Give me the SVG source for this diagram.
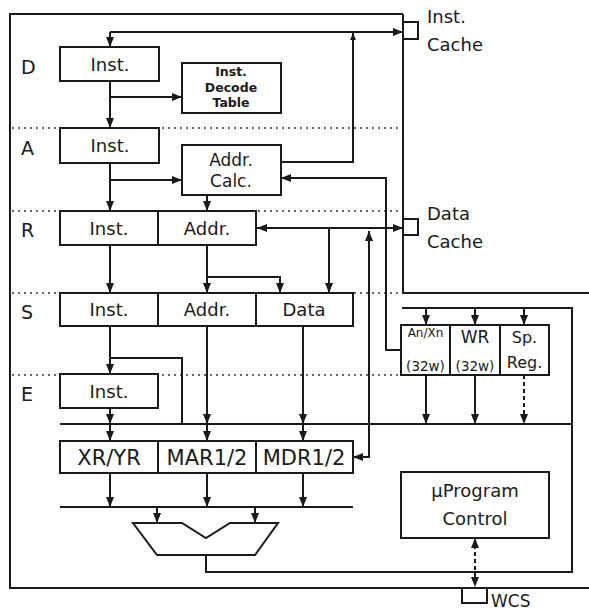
<svg xmlns="http://www.w3.org/2000/svg" width="589" height="612" viewBox="0 0 589 612">
<defs>
<marker id="ah" markerUnits="userSpaceOnUse" markerWidth="10" markerHeight="8" refX="10" refY="4" orient="auto-start-reverse"><path d="M0,0 L10,4 L0,8 z" fill="#1a1a1a"/></marker>
<marker id="ahs" markerUnits="userSpaceOnUse" markerWidth="7" markerHeight="6" refX="7" refY="3" orient="auto-start-reverse"><path d="M0,0 L7,3 L0,6 z" fill="#1a1a1a"/></marker>
<style>
text{font-family:"DejaVu Sans","Liberation Sans",sans-serif;fill:#1a1a1a}
.t{font-size:18px;text-anchor:middle}
.b{font-size:21px;text-anchor:middle}
.s{font-size:12.5px;font-weight:bold;text-anchor:middle}
.lane{font-size:19px}
.lbl{font-size:18px}
.box{fill:#fff;stroke:#1a1a1a;stroke-width:2}
.ln{fill:none;stroke:#1a1a1a;stroke-width:2}
.dot{fill:none;stroke:#333;stroke-width:1.5;stroke-dasharray:2 4}
.dash{stroke-dasharray:4 3}
.a{marker-end:url(#ah)}
.a2{marker-start:url(#ah);marker-end:url(#ah)}
</style>
</defs>
<rect width="589" height="612" fill="#fff"/>
<g id="frame">
<path class="ln" d="M403,14 L10,14 L10,588 L589,588"/>
<path class="ln" d="M403,14 L403,293 L589,293"/>
<path class="dot" d="M12,128 L403,128 M12,211 L403,211 M12,293 L403,293 M12,375 L401,375"/>
</g>
<g id="lanes">
<text class="lane" x="21" y="74">D</text>
<text class="lane" x="21" y="155">A</text>
<text class="lane" x="21" y="237">R</text>
<text class="lane" x="21" y="319">S</text>
<text class="lane" x="21" y="401">E</text>
</g>
<g id="connectors">
<path class="ln a" d="M110,32 L403,32"/>
<path class="ln a" d="M110,32 L110,47"/>
<path class="ln" d="M281,162 L353,162 L353,33" marker-end="url(#ahs)"/>
<path class="ln a" d="M110,81 L110,128"/>
<path class="ln a" d="M110,97 L182,97"/>
<path class="ln a" d="M110,163 L110,211"/>
<path class="ln a" d="M110,180 L182,180"/>
<path class="ln a" d="M207,195 L207,211"/>
<path class="ln a" d="M401,350 L386,350 L386,178 L281,178"/>
<path class="ln a2" d="M257,228 L403,228"/>
<path class="ln a" d="M329,228 L329,293"/>
<path class="ln a2" d="M353,457 L369,457 L369,231"/>
<path class="ln a" d="M110,245 L110,293"/>
<path class="ln a" d="M207,245 L207,293"/>
<path class="ln a" d="M207,277 L280,277 L280,293"/>
<path class="ln a" d="M110,326 L110,374"/>
<path class="ln" d="M110,358 L182,358 L182,424"/>
<path class="ln a" d="M207,326 L207,424"/>
<path class="ln a" d="M207,424 L207,441"/>
<path class="ln a" d="M303,326 L303,424"/>
<path class="ln a" d="M303,424 L303,441"/>
<path class="ln a" d="M110,408 L110,424"/>
<path class="ln a" d="M110,424 L110,441"/>
<path class="ln a" d="M110,473 L110,507"/>
<path class="ln a" d="M207,473 L207,507"/>
<path class="ln a" d="M303,473 L303,507"/>
<path class="ln a" d="M157,507 L157,523"/>
<path class="ln a" d="M255,507 L255,523"/>
<path class="ln" d="M60,424 L572,424"/>
<path class="ln" d="M60,507 L353,507"/>
<path class="ln" d="M206,555 L206,572 L572,572 L572,308 L402,308"/>
<path class="ln a" d="M426,308 L426,325"/>
<path class="ln a" d="M475,308 L475,325"/>
<path class="ln a" d="M524,308 L524,325"/>
<path class="ln a" d="M426,375 L426,424"/>
<path class="ln a" d="M475,375 L475,424"/>
<path class="ln a dash" d="M524,375 L524,424"/>
<path class="ln a2 dash" d="M475,538 L475,587"/>
<path class="ln" d="M403,22 L418,22 L418,39 L403,39"/>
<path class="ln" d="M403,219 L418,219 L418,235 L403,235"/>
<path class="ln" d="M462,588 L462,603 L487,603 L487,588"/>
</g>
<g id="caches">
<text class="lbl" x="427" y="23">Inst.</text>
<text class="lbl" x="427" y="51">Cache</text>
<text class="lbl" x="427" y="220">Data</text>
<text class="lbl" x="427" y="248">Cache</text>
<text class="lbl" x="491" y="607" style="font-size:17px">WCS</text>
</g>
<g id="d-inst"><rect class="box" x="60" y="47" width="99" height="34"/><text class="t" x="110" y="71">Inst.</text></g>
<g id="decode"><rect class="box" x="182" y="63" width="99" height="50"/><text class="s" x="231" y="76">Inst.</text><text class="s" x="231" y="92">Decode</text><text class="s" x="231" y="107">Table</text></g>
<g id="a-inst"><rect class="box" x="60" y="128" width="99" height="35"/><text class="t" x="110" y="152">Inst.</text></g>
<g id="addr-calc"><rect class="box" x="182" y="145" width="99" height="50"/><text class="t" x="231" y="166" style="font-size:17px">Addr.</text><text class="t" x="231" y="187" style="font-size:17px">Calc.</text></g>
<g id="r-inst"><rect class="box" x="60" y="211" width="98" height="34"/><text class="t" x="109" y="235">Inst.</text></g>
<g id="r-addr"><rect class="box" x="158" y="211" width="98" height="34"/><text class="t" x="207" y="235">Addr.</text></g>
<g id="s-inst"><rect class="box" x="60" y="293" width="98" height="33"/><text class="t" x="109" y="316">Inst.</text></g>
<g id="s-addr"><rect class="box" x="158" y="293" width="98" height="33"/><text class="t" x="207" y="316">Addr.</text></g>
<g id="s-data"><rect class="box" x="256" y="293" width="97" height="33"/><text class="t" x="304" y="316">Data</text></g>
<g id="e-inst"><rect class="box" x="60" y="374" width="98" height="34"/><text class="t" x="109" y="398">Inst.</text></g>
<g id="xryr"><rect class="box" x="60" y="441" width="98" height="32"/><text class="b" x="109" y="465">XR/YR</text></g>
<g id="mar"><rect class="box" x="158" y="441" width="98" height="32"/><text class="b" x="207" y="465">MAR1/2</text></g>
<g id="mdr"><rect class="box" x="256" y="441" width="97" height="32"/><text class="b" x="304" y="465">MDR1/2</text></g>
<g id="alu"><polygon class="box" points="133,523 182,523 206,538 230,523 278,523 255,555 157,555"/></g>
<g id="anxn"><rect class="box" x="401" y="325" width="49" height="50"/><text class="t" x="425.5" y="337" style="font-size:12px">An/Xn</text><text class="t" x="425.5" y="371" style="font-size:13.5px">(32w)</text></g>
<g id="wr"><rect class="box" x="450" y="325" width="50" height="50"/><text class="t" x="475" y="343" style="font-size:17px">WR</text><text class="t" x="475" y="371" style="font-size:13.5px">(32w)</text></g>
<g id="spreg"><rect class="box" x="500" y="325" width="49" height="50"/><text class="t" x="524.5" y="343" style="font-size:16px">Sp.</text><text class="t" x="524.5" y="368" style="font-size:16px">Reg.</text></g>
<g id="uprog"><rect class="box" x="401" y="472" width="148" height="66"/><text class="t" x="475" y="497">µProgram</text><text class="t" x="475" y="525">Control</text></g>
</svg>
